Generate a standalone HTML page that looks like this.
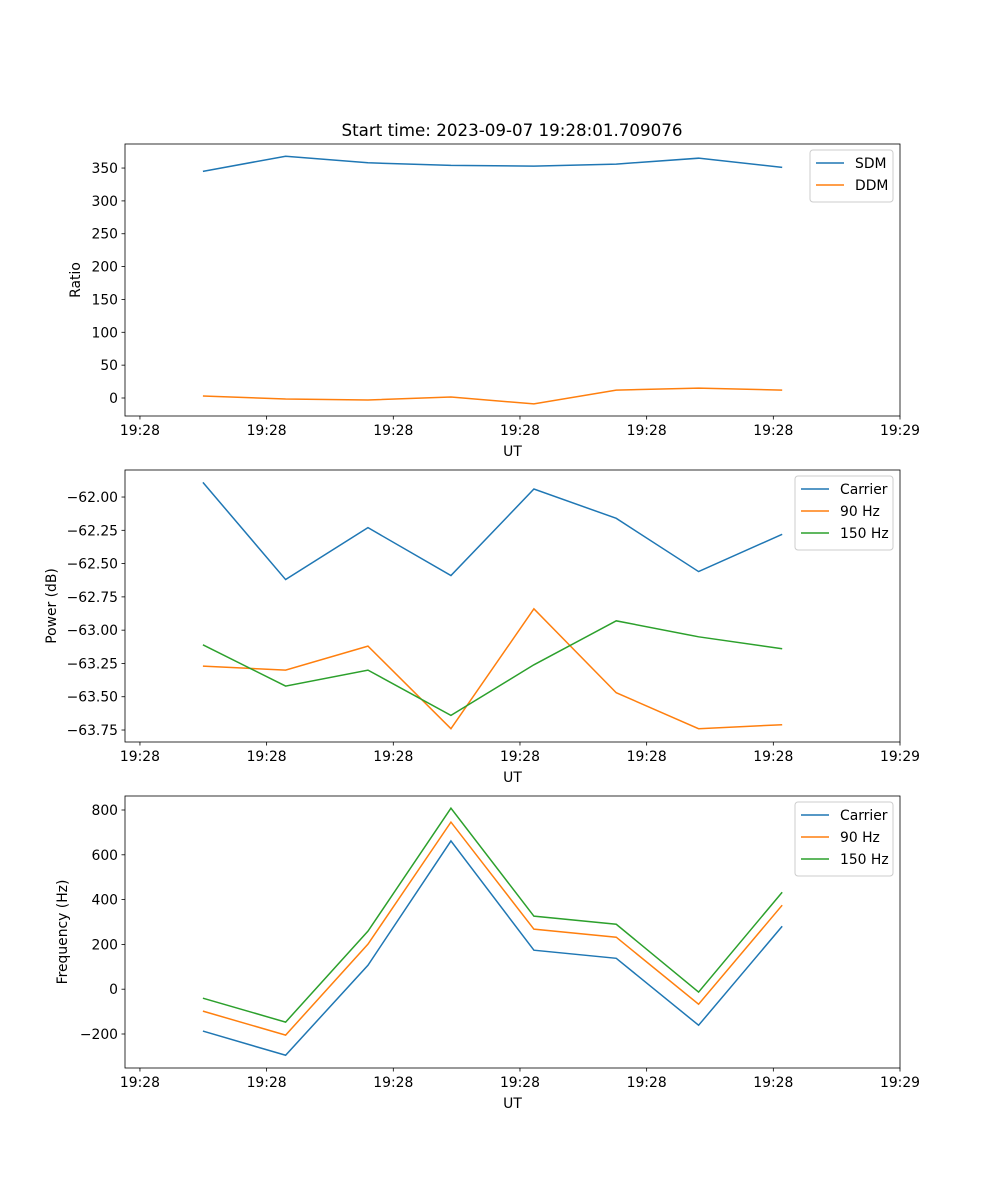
<!DOCTYPE html>
<html><head><meta charset="utf-8"><style>
body{margin:0;background:#fff}
svg{display:block;font-family:"DejaVu Sans","Liberation Sans",sans-serif}
</style></head><body>
<svg id="fig" width="1000" height="1200" xmlns="http://www.w3.org/2000/svg">
<rect width="1000" height="1200" fill="#fff"/>
<text x="512" y="136" font-size="16.7" text-anchor="middle">Start time: 2023-09-07 19:28:01.709076</text>
</svg>
<script>
const timeSec = [4.97, 11.5, 18.0, 24.55, 31.1, 37.6, 44.1, 50.7];
const xTickVals = [0, 10, 20, 30, 40, 50, 60];
const xTickLabels = ["19:28","19:28","19:28","19:28","19:28","19:28","19:29"];
const sdm = [345, 368, 358, 354, 353, 356, 365, 351];
const ddm = [3, -1.5, -3, 1.5, -9, 12, 15, 12];
const powCarrier = [-61.89, -62.62, -62.23, -62.59, -61.94, -62.16, -62.56, -62.28];
const pow90 = [-63.27, -63.30, -63.12, -63.74, -62.84, -63.47, -63.74, -63.71];
const pow150 = [-63.11, -63.42, -63.30, -63.64, -63.26, -62.93, -63.05, -63.14];
const freqCarrier = [-187, -295, 107, 662, 174, 138, -161, 281];
const freq90 = [-98, -205, 201, 746, 268, 232, -67, 375];
const freq150 = [-40, -147, 259, 808, 326, 290, -13, 433];
const ratioTicks = [0, 50, 100, 150, 200, 250, 300, 350];
const powTicks = [-62.00, -62.25, -62.50, -62.75, -63.00, -63.25, -63.50, -63.75];
const freqTicks = [-200, 0, 200, 400, 600, 800];

const NS = "http://www.w3.org/2000/svg";
const fig = document.getElementById('fig');
const COLORS = ['#1f77b4', '#ff7f0e', '#2ca02c'];
function mk(tag, attrs, parent) {
  const e = document.createElementNS(NS, tag);
  for (const k in attrs) e.setAttribute(k, attrs[k]);
  parent.appendChild(e);
  return e;
}
function panel(o) {
  const L = 125, R = 900, T = o.top, B = o.top + 272;
  const g = mk('g', {}, fig);
  
  
  const xs = v => L + (v - (-1.18)) / (60 - (-1.18)) * (R - L);
  const ys = v => B - (v - o.ymin) / (o.ymax - o.ymin) * (B - T);
  o.series.forEach((s, i) => {
    const p = mk('polyline', {points: s.vals.map((v, j) => xs(timeSec[j]).toFixed(2) + ',' + ys(v).toFixed(2)).join(' '), fill: 'none', stroke: COLORS[i], 'stroke-width': 1.5}, g);
    
    
  });
  const frame = mk('rect', {x: L, y: T, width: R - L, height: B - T, fill: 'none', stroke: '#000', 'stroke-width': 0.8}, g);
  
  
  xTickVals.forEach((v, i) => {
    const x = xs(v);
    mk('line', {x1: x, x2: x, y1: B, y2: B + 3.5, stroke: '#000', 'stroke-width': 0.8}, g);
    const t = mk('text', {x: x, y: B + 19, 'font-size': 13.9, 'text-anchor': 'middle'}, g);
    t.textContent = xTickLabels[i];
    
    
  });
  o.yticks.forEach(v => {
    const y = ys(v);
    mk('line', {x1: L - 3.5, x2: L, y1: y, y2: y, stroke: '#000', 'stroke-width': 0.8}, g);
    const t = mk('text', {x: L - 7, y: y + 5, 'font-size': 13.9, 'text-anchor': 'end'}, g);
    t.textContent = o.fmt(v);
    
    
  });
  const xl = mk('text', {x: (L + R) / 2, y: B + 40, 'font-size': 13.9, 'text-anchor': 'middle'}, g);
  xl.textContent = 'UT';
  
  
  const yl = mk('text', {x: 0, y: 0, 'font-size': 13.9, 'text-anchor': 'middle', transform: `translate(${o.ylx},${(T + B) / 2}) rotate(-90)`}, g);
  yl.textContent = o.ylabel;
  
  
  const lg = mk('g', {}, g);
  
  
  const lw = o.legW, lx = R - 7 - lw, ly = T + 6;
  mk('rect', {x: lx, y: ly, width: lw, height: 8 + o.series.length * 22, rx: 3, fill: '#fff', 'fill-opacity': 0.8, stroke: '#ccc', 'stroke-width': 1}, lg);
  o.series.forEach((s, i) => {
    const yy = ly + 13 + i * 22;
    mk('line', {x1: lx + 6, x2: lx + 34, y1: yy, y2: yy, stroke: COLORS[i], 'stroke-width': 1.5}, lg);
    const t = mk('text', {x: lx + 45, y: yy + 5, 'font-size': 13.9}, lg);
    t.textContent = s.label;
    
    
  });
}
panel({name: 'ratio-panel', top: 144, ymin: -27.4, ymax: 386.6, yticks: ratioTicks, fmt: v => String(v), ylabel: 'Ratio', ylx: 80, legW: 83,
  series: [{id: 'sdm', label: 'SDM', vals: sdm}, {id: 'ddm', label: 'DDM', vals: ddm}]});
panel({name: 'power-panel', top: 470, ymin: -63.84, ymax: -61.797, yticks: powTicks, fmt: v => '\u2212' + Math.abs(v).toFixed(2), ylabel: 'Power (dB)', ylx: 56, legW: 98,
  series: [{id: 'power-carrier', label: 'Carrier', vals: powCarrier}, {id: 'power-90hz', label: '90 Hz', vals: pow90}, {id: 'power-150hz', label: '150 Hz', vals: pow150}]});
panel({name: 'frequency-panel', top: 796, ymin: -351.8, ymax: 862.5, yticks: freqTicks, fmt: v => v < 0 ? '\u2212' + Math.abs(v) : String(v), ylabel: 'Frequency (Hz)', ylx: 67, legW: 98,
  series: [{id: 'freq-carrier', label: 'Carrier', vals: freqCarrier}, {id: 'freq-90hz', label: '90 Hz', vals: freq90}, {id: 'freq-150hz', label: '150 Hz', vals: freq150}]});
</script>
</body></html>
